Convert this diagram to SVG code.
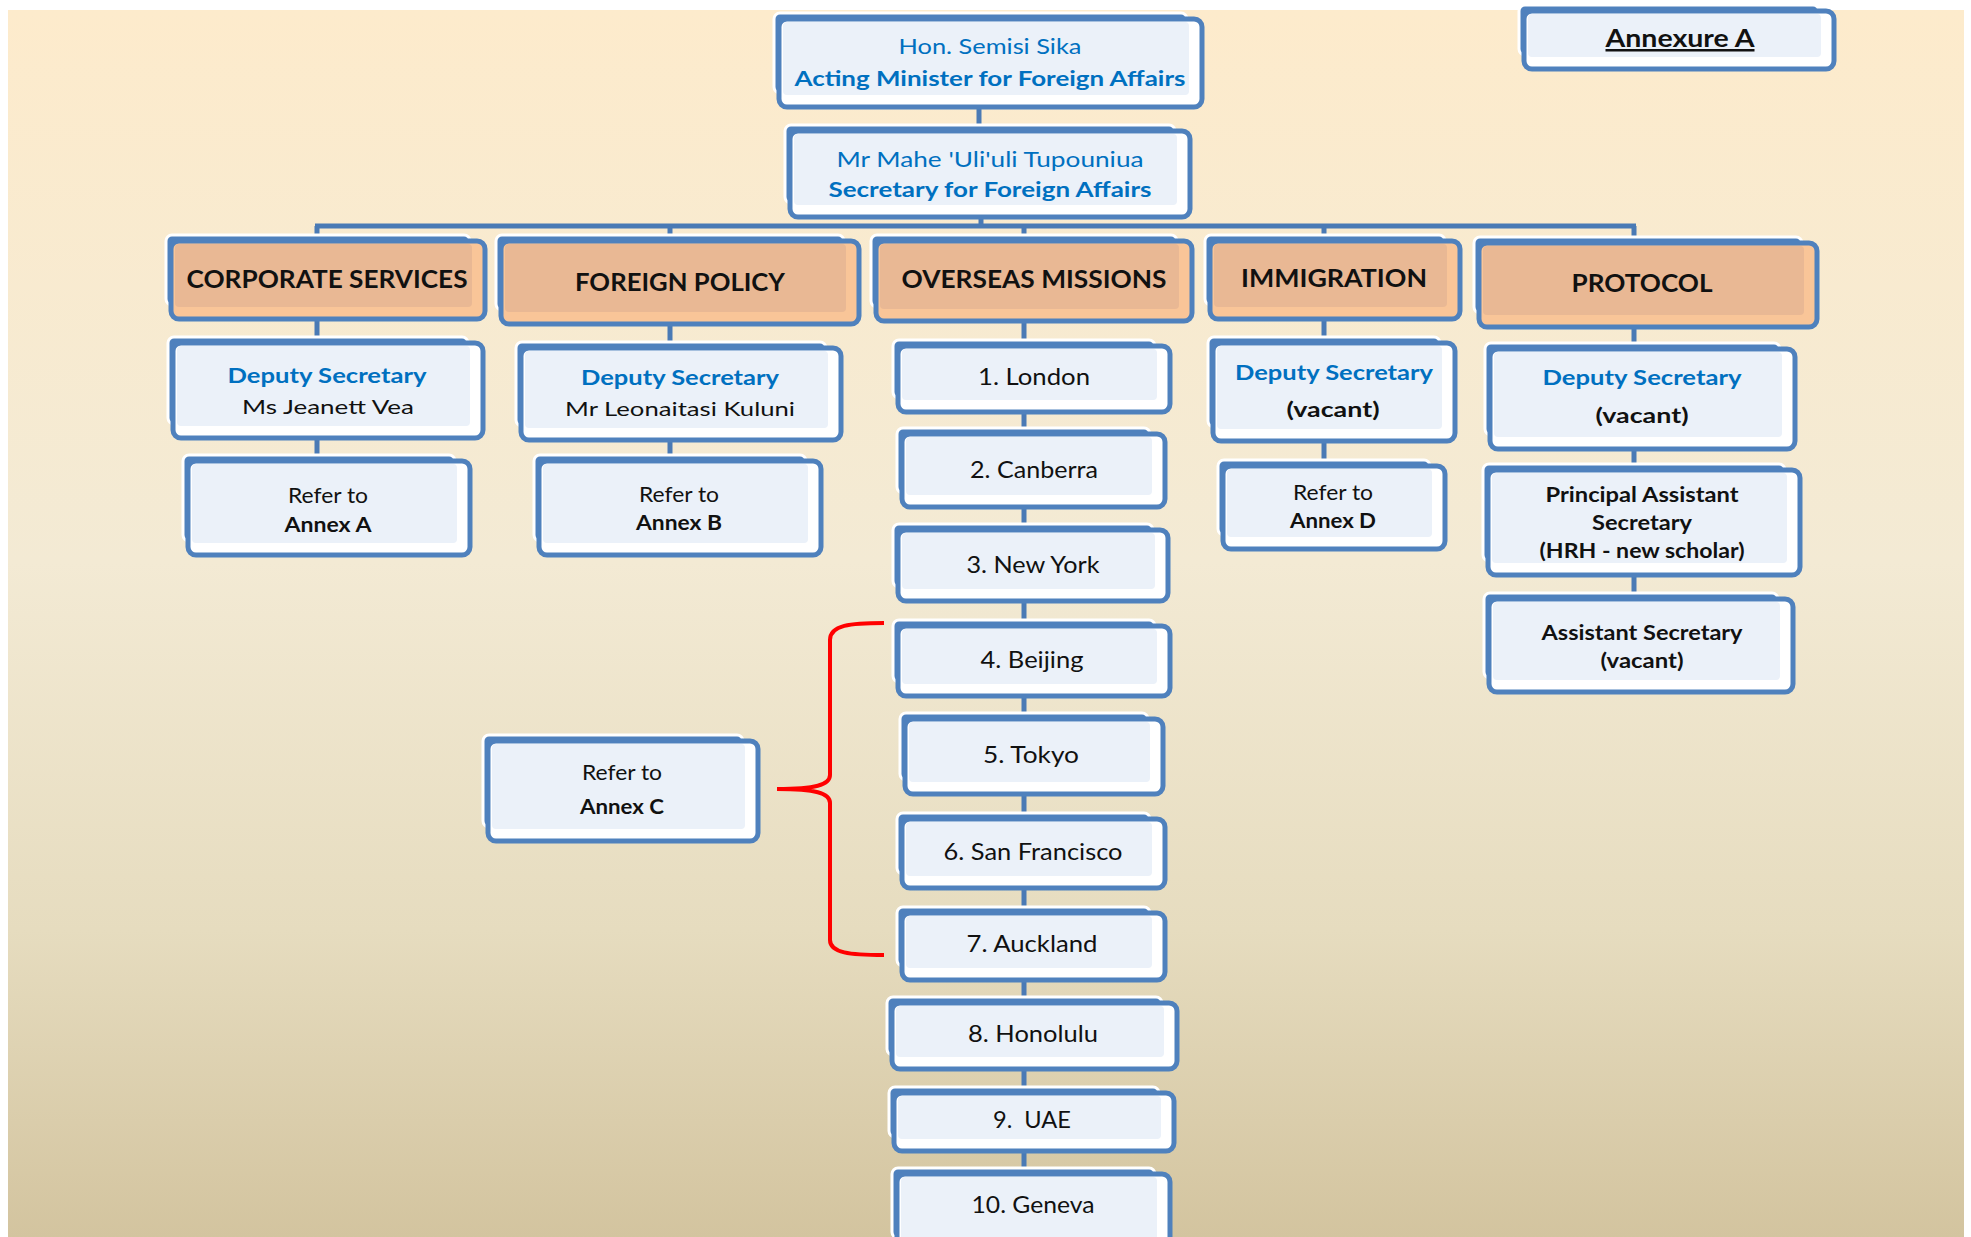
<svg xmlns="http://www.w3.org/2000/svg" width="1971" height="1237" viewBox="0 0 1971 1237">
<defs>
<linearGradient id="bg" x1="0" y1="0" x2="0" y2="1">
<stop offset="0" stop-color="#FDEBCC"/>
<stop offset="0.45" stop-color="#F3EAD4"/>
<stop offset="0.75" stop-color="#E6DCBF"/>
<stop offset="1" stop-color="#D3C49F"/>
</linearGradient>
<style>
.bk{fill:#4F81BD;stroke:#fff;stroke-width:3}
.fr{fill:#fff;stroke:#4F81BD;stroke-width:5}
.in{fill:#EBF1F9}
.frO{fill:#F9C598;stroke:#4F81BD;stroke-width:5}
.inO{fill:#E9B894}
.cn{stroke:#4A7AB5;stroke-width:5;fill:none}
.br{stroke:#FF0000;stroke-width:4;fill:none}
text{font-family:Lato,"Open Sans","Liberation Sans",sans-serif;text-anchor:middle;fill:#111}
.bl{fill:#0070C0}
.b{font-weight:bold}
.h{font-size:25px;font-weight:bold}
.t21{font-size:21px}
.t20{font-size:20px}
.m{font-size:23px;white-space:pre}
</style>
</defs>
<rect x="0" y="0" width="1971" height="1237" fill="#fff"/>
<rect x="8" y="10" width="1956" height="1227" fill="url(#bg)"/>

<g id="connectors">
<path class="cn" d="M979 98V130"/>
<path class="cn" d="M981 210V226"/>
<path class="cn" d="M315 226H1636"/>
<path class="cn" d="M317 226V460"/>
<path class="cn" d="M670 226V460"/>
<path class="cn" d="M1024 226V1237"/>
<path class="cn" d="M1324 226V462"/>
<path class="cn" d="M1634 226V596"/>
<path class="br" d="M884 623C850 623 830 625 830 640L830 775C830 785 815 789 777 789C815 789 830 793 830 803L830 940C830 953 850 955 884 955"/>
</g>

<g id="minister">
<rect class="bk" x="774" y="13" width="413" height="80" rx="6"/>
<rect class="fr" x="779" y="19" width="423" height="88" rx="8"/>
<rect class="in" x="783" y="22" width="406" height="73" rx="4"/>
<text class="t21 bl" x="990" y="54" textLength="183" lengthAdjust="spacingAndGlyphs">Hon. Semisi Sika</text>
<text class="t21 bl b" x="990" y="86" textLength="391" lengthAdjust="spacingAndGlyphs">Acting Minister for Foreign Affairs</text>
</g>

<g id="secretary">
<rect class="bk" x="785" y="125" width="390" height="78" rx="6"/>
<rect class="fr" x="790" y="131" width="400" height="86" rx="8"/>
<rect class="in" x="794" y="134" width="383" height="71" rx="4"/>
<text class="t21 bl" x="990" y="167" textLength="307" lengthAdjust="spacingAndGlyphs">Mr Mahe 'Uli'uli Tupouniua</text>
<text class="t21 bl b" x="990" y="197" textLength="323" lengthAdjust="spacingAndGlyphs">Secretary for Foreign Affairs</text>
</g>

<g id="annexure">
<rect class="bk" x="1519" y="5" width="300" height="50" rx="6"/>
<rect class="fr" x="1524" y="11" width="310" height="58" rx="8"/>
<rect class="in" x="1528" y="14" width="293" height="43" rx="4"/>
<text class="h" x="1680" y="47" text-decoration="underline" textLength="149" lengthAdjust="spacingAndGlyphs">Annexure A</text>
</g>

<g id="hdr-corporate">
<rect class="bk" x="166" y="235" width="304" height="70" rx="6"/>
<rect class="frO" x="171" y="241" width="314" height="78" rx="8"/>
<rect class="inO" x="175" y="244" width="297" height="63" rx="4"/>
<text class="h" x="327" y="288" textLength="281" lengthAdjust="spacingAndGlyphs">CORPORATE SERVICES</text>
</g>

<g id="hdr-foreign">
<rect class="bk" x="496" y="235" width="348" height="75" rx="6"/>
<rect class="frO" x="501" y="241" width="358" height="83" rx="8"/>
<rect class="inO" x="505" y="244" width="341" height="68" rx="4"/>
<text class="h" x="680" y="291" textLength="210" lengthAdjust="spacingAndGlyphs">FOREIGN POLICY</text>
</g>

<g id="hdr-overseas">
<rect class="bk" x="871" y="235" width="306" height="72" rx="6"/>
<rect class="frO" x="876" y="241" width="316" height="80" rx="8"/>
<rect class="inO" x="880" y="244" width="299" height="65" rx="4"/>
<text class="h" x="1034" y="288" textLength="265" lengthAdjust="spacingAndGlyphs">OVERSEAS MISSIONS</text>
</g>

<g id="hdr-immigration">
<rect class="bk" x="1205" y="235" width="240" height="70" rx="6"/>
<rect class="frO" x="1210" y="241" width="250" height="78" rx="8"/>
<rect class="inO" x="1214" y="244" width="233" height="63" rx="4"/>
<text class="h" x="1334" y="287" textLength="186" lengthAdjust="spacingAndGlyphs">IMMIGRATION</text>
</g>

<g id="hdr-protocol">
<rect class="bk" x="1474" y="237" width="328" height="76" rx="6"/>
<rect class="frO" x="1479" y="243" width="338" height="84" rx="8"/>
<rect class="inO" x="1483" y="246" width="321" height="69" rx="4"/>
<text class="h" x="1642" y="292" textLength="141" lengthAdjust="spacingAndGlyphs">PROTOCOL</text>
</g>

<g id="ds-corporate">
<rect class="bk" x="168" y="337" width="300" height="87" rx="6"/>
<rect class="fr" x="173" y="343" width="310" height="95" rx="8"/>
<rect class="in" x="177" y="346" width="293" height="80" rx="4"/>
<text class="t21 bl b" x="327" y="383" textLength="199" lengthAdjust="spacingAndGlyphs">Deputy Secretary</text>
<text class="t20" x="328" y="414" textLength="172" lengthAdjust="spacingAndGlyphs">Ms Jeanett Vea</text>
</g>

<g id="ds-foreign">
<rect class="bk" x="516" y="342" width="310" height="84" rx="6"/>
<rect class="fr" x="521" y="348" width="320" height="92" rx="8"/>
<rect class="in" x="525" y="351" width="303" height="77" rx="4"/>
<text class="t21 bl b" x="680" y="385" textLength="198" lengthAdjust="spacingAndGlyphs">Deputy Secretary</text>
<text class="t20" x="680" y="416" textLength="230" lengthAdjust="spacingAndGlyphs">Mr Leonaitasi Kuluni</text>
</g>

<g id="ds-immigration">
<rect class="bk" x="1208" y="337" width="232" height="90" rx="6"/>
<rect class="fr" x="1213" y="343" width="242" height="98" rx="8"/>
<rect class="in" x="1217" y="346" width="225" height="83" rx="4"/>
<text class="t21 bl b" x="1334" y="380" textLength="198" lengthAdjust="spacingAndGlyphs">Deputy Secretary</text>
<text class="t21 b" x="1333" y="417" textLength="93" lengthAdjust="spacingAndGlyphs">(vacant)</text>
</g>

<g id="ds-protocol">
<rect class="bk" x="1485" y="343" width="295" height="92" rx="6"/>
<rect class="fr" x="1490" y="349" width="305" height="100" rx="8"/>
<rect class="in" x="1494" y="352" width="288" height="85" rx="4"/>
<text class="t21 bl b" x="1642" y="385" textLength="199" lengthAdjust="spacingAndGlyphs">Deputy Secretary</text>
<text class="t21 b" x="1642" y="423" textLength="93" lengthAdjust="spacingAndGlyphs">(vacant)</text>
</g>

<g id="pas">
<rect class="bk" x="1483" y="464" width="302" height="97" rx="6"/>
<rect class="fr" x="1488" y="470" width="312" height="105" rx="8"/>
<rect class="in" x="1492" y="473" width="295" height="90" rx="4"/>
<text class="t20 b" x="1642" y="502" textLength="193" lengthAdjust="spacingAndGlyphs">Principal Assistant</text>
<text class="t20 b" x="1642" y="530" textLength="100" lengthAdjust="spacingAndGlyphs">Secretary</text>
<text class="t20 b" x="1642" y="558" textLength="205" lengthAdjust="spacingAndGlyphs">(HRH - new scholar)</text>
</g>

<g id="as">
<rect class="bk" x="1484" y="593" width="294" height="85" rx="6"/>
<rect class="fr" x="1489" y="599" width="304" height="93" rx="8"/>
<rect class="in" x="1493" y="602" width="287" height="78" rx="4"/>
<text class="t20 b" x="1642" y="640" textLength="201" lengthAdjust="spacingAndGlyphs">Assistant Secretary</text>
<text class="t20 b" x="1642" y="668" textLength="83" lengthAdjust="spacingAndGlyphs">(vacant)</text>
</g>

<g id="ref-a">
<rect class="bk" x="183" y="455" width="272" height="86" rx="6"/>
<rect class="fr" x="188" y="461" width="282" height="94" rx="8"/>
<rect class="in" x="192" y="464" width="265" height="79" rx="4"/>
<text class="t21" x="328" y="503" textLength="80" lengthAdjust="spacingAndGlyphs">Refer to</text>
<text class="t21 b" x="328" y="532" textLength="87" lengthAdjust="spacingAndGlyphs">Annex A</text>
</g>

<g id="ref-b">
<rect class="bk" x="534" y="455" width="272" height="86" rx="6"/>
<rect class="fr" x="539" y="461" width="282" height="94" rx="8"/>
<rect class="in" x="543" y="464" width="265" height="79" rx="4"/>
<text class="t21" x="679" y="502" textLength="80" lengthAdjust="spacingAndGlyphs">Refer to</text>
<text class="t21 b" x="679" y="530" textLength="86" lengthAdjust="spacingAndGlyphs">Annex B</text>
</g>

<g id="ref-d">
<rect class="bk" x="1218" y="460" width="212" height="75" rx="6"/>
<rect class="fr" x="1223" y="466" width="222" height="83" rx="8"/>
<rect class="in" x="1227" y="469" width="205" height="68" rx="4"/>
<text class="t21" x="1333" y="500" textLength="80" lengthAdjust="spacingAndGlyphs">Refer to</text>
<text class="t21 b" x="1333" y="528" textLength="86" lengthAdjust="spacingAndGlyphs">Annex D</text>
</g>

<g id="ref-c">
<rect class="bk" x="483" y="735" width="260" height="92" rx="6"/>
<rect class="fr" x="488" y="741" width="270" height="100" rx="8"/>
<rect class="in" x="492" y="744" width="253" height="85" rx="4"/>
<text class="t21" x="622" y="780" textLength="80" lengthAdjust="spacingAndGlyphs">Refer to</text>
<text class="t21 b" x="622" y="814" textLength="84" lengthAdjust="spacingAndGlyphs">Annex C</text>
</g>

<g id="london">
<rect class="bk" x="893" y="340" width="262" height="58" rx="6"/>
<rect class="fr" x="898" y="346" width="272" height="66" rx="8"/>
<rect class="in" x="902" y="349" width="255" height="51" rx="4"/>
<text class="m" x="1034" y="385" textLength="112" lengthAdjust="spacingAndGlyphs">1. London</text>
</g>

<g id="canberra">
<rect class="bk" x="897" y="428" width="253" height="65" rx="6"/>
<rect class="fr" x="902" y="434" width="263" height="73" rx="8"/>
<rect class="in" x="906" y="437" width="246" height="58" rx="4"/>
<text class="m" x="1034" y="478" textLength="128" lengthAdjust="spacingAndGlyphs">2. Canberra</text>
</g>

<g id="newyork">
<rect class="bk" x="893" y="524" width="260" height="63" rx="6"/>
<rect class="fr" x="898" y="530" width="270" height="71" rx="8"/>
<rect class="in" x="902" y="533" width="253" height="56" rx="4"/>
<text class="m" x="1033" y="573" textLength="133" lengthAdjust="spacingAndGlyphs">3. New York</text>
</g>

<g id="beijing">
<rect class="bk" x="893" y="620" width="262" height="62" rx="6"/>
<rect class="fr" x="898" y="626" width="272" height="70" rx="8"/>
<rect class="in" x="902" y="629" width="255" height="55" rx="4"/>
<text class="m" x="1032" y="668" textLength="103" lengthAdjust="spacingAndGlyphs">4. Beijing</text>
</g>

<g id="tokyo">
<rect class="bk" x="900" y="713" width="248" height="67" rx="6"/>
<rect class="fr" x="905" y="719" width="258" height="75" rx="8"/>
<rect class="in" x="909" y="722" width="241" height="60" rx="4"/>
<text class="m" x="1031" y="763" textLength="96" lengthAdjust="spacingAndGlyphs">5. Tokyo</text>
</g>

<g id="sanfrancisco">
<rect class="bk" x="897" y="813" width="253" height="61" rx="6"/>
<rect class="fr" x="902" y="819" width="263" height="69" rx="8"/>
<rect class="in" x="906" y="822" width="246" height="54" rx="4"/>
<text class="m" x="1033" y="860" textLength="179" lengthAdjust="spacingAndGlyphs">6. San Francisco</text>
</g>

<g id="auckland">
<rect class="bk" x="897" y="907" width="253" height="59" rx="6"/>
<rect class="fr" x="902" y="913" width="263" height="67" rx="8"/>
<rect class="in" x="906" y="916" width="246" height="52" rx="4"/>
<text class="m" x="1032" y="952" textLength="131" lengthAdjust="spacingAndGlyphs">7. Auckland</text>
</g>

<g id="honolulu">
<rect class="bk" x="887" y="997" width="275" height="58" rx="6"/>
<rect class="fr" x="892" y="1003" width="285" height="66" rx="8"/>
<rect class="in" x="896" y="1006" width="268" height="51" rx="4"/>
<text class="m" x="1033" y="1042" textLength="130" lengthAdjust="spacingAndGlyphs">8. Honolulu</text>
</g>

<g id="uae">
<rect class="bk" x="889" y="1087" width="270" height="50" rx="6"/>
<rect class="fr" x="894" y="1093" width="280" height="58" rx="8"/>
<rect class="in" x="898" y="1096" width="263" height="43" rx="4"/>
<text class="m" x="1032" y="1128" textLength="78" lengthAdjust="spacingAndGlyphs">9.  UAE</text>
</g>

<g id="geneva">
<rect class="bk" x="892" y="1168" width="263" height="70" rx="6"/>
<rect class="fr" x="897" y="1174" width="273" height="78" rx="8"/>
<rect class="in" x="901" y="1177" width="256" height="63" rx="4"/>
<text class="m" x="1033" y="1213" textLength="123" lengthAdjust="spacingAndGlyphs">10. Geneva</text>
</g>
</svg>
